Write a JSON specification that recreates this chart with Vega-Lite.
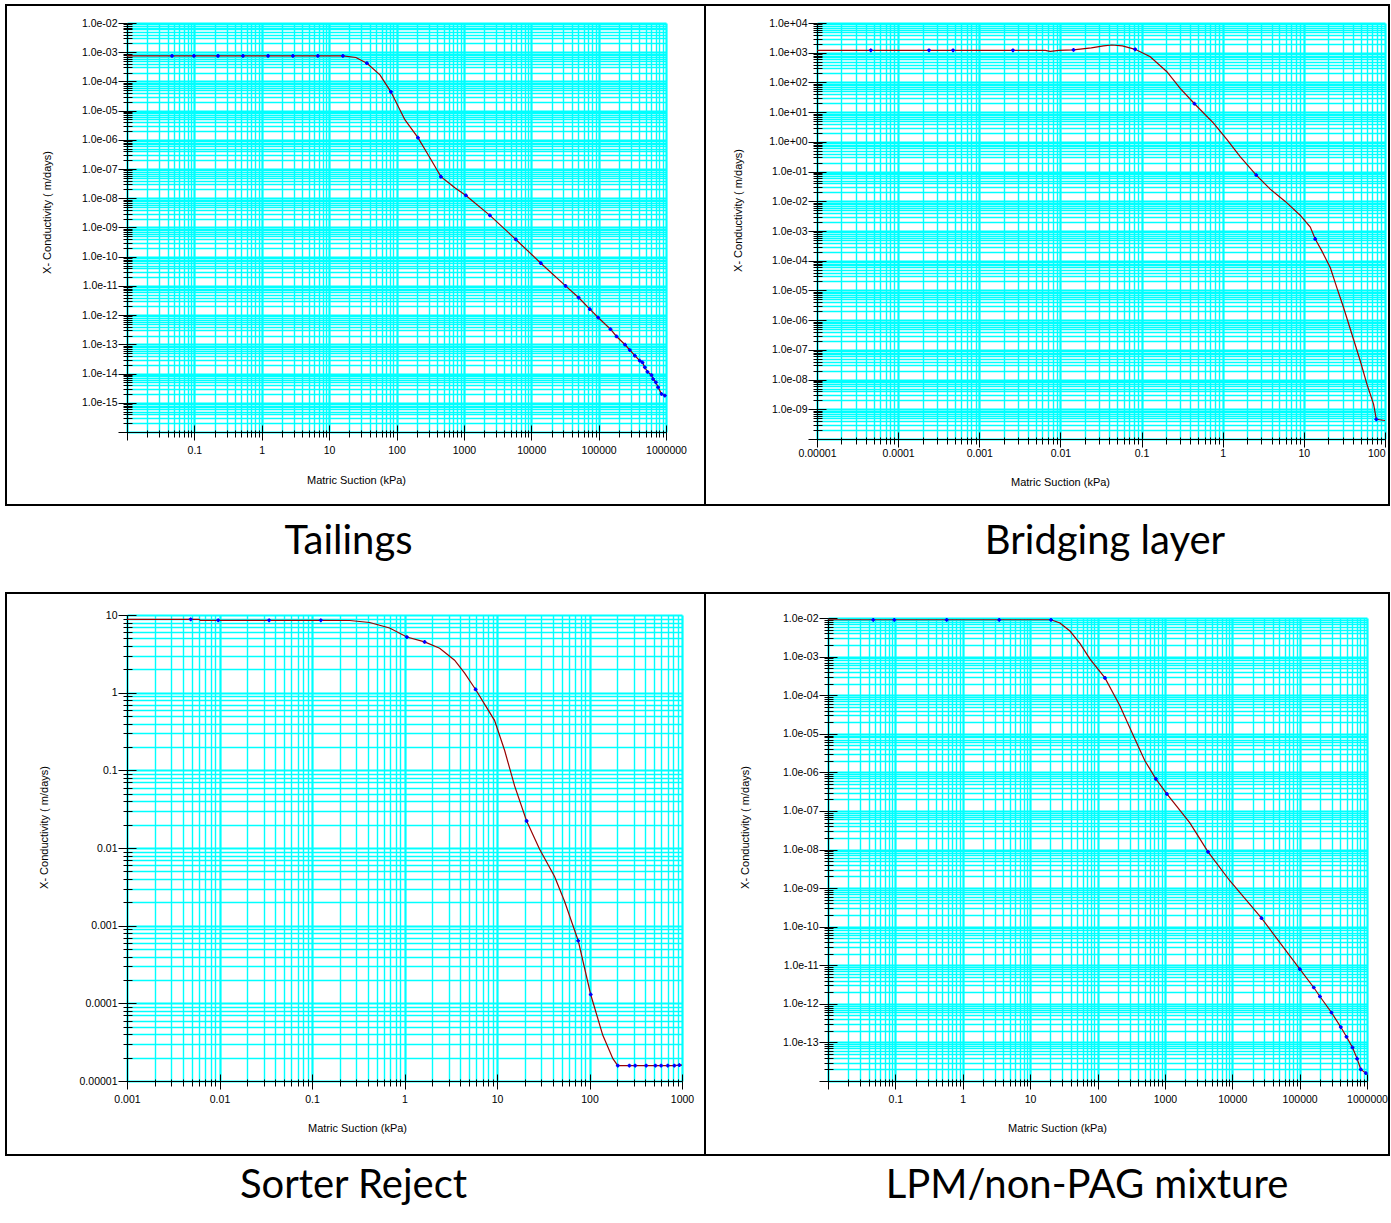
{
  "$schema": "https://vega.github.io/schema/vega-lite/v6.json",
  "background": "white",
  "padding": {"left": 5, "top": 4, "right": 0, "bottom": 0},
  "spacing": 0,
  "bounds": "flush",
  "columns": 2,
  "config": {
    "view": {"stroke": "#000000", "strokeWidth": 2},
    "axis": {"labelFont": "Liberation Sans", "labelFontSize": 10.5, "labelColor": "#000000", "titleFont": "Liberation Sans", "titleFontSize": 11, "titleFontWeight": "normal", "titleColor": "#000000", "domainColor": "#000000", "tickColor": "#000000", "domainWidth": 1, "tickWidth": 1, "gridOpacity": 1, "gridColor": "#00FFFF", "tickRound": true}
  },
  "datasets": {
    "tailings": [
      {"s":0.01,"k":7.5e-4,"m":0},{"s":0.0466,"k":7.5e-4,"m":1},{"s":0.0986,"k":7.5e-4,"m":1},{"s":0.224,"k":7.5e-4,"m":1},{"s":0.526,"k":7.5e-4,"m":1},{"s":1.24,"k":7.5e-4,"m":1},{"s":2.9,"k":7.5e-4,"m":1},{"s":6.8,"k":7.5e-4,"m":1},{"s":16,"k":7.5e-4,"m":1},{"s":25,"k":6.6e-4,"m":0},{"s":36.4,"k":4.2e-4,"m":1},{"s":56.8,"k":1.68e-4,"m":0},{"s":82.6,"k":4.4e-5,"m":1},{"s":133,"k":4.9e-6,"m":0},{"s":208,"k":1.19e-6,"m":1},{"s":313,"k":2.45e-7,"m":0},{"s":456,"k":5.5e-8,"m":1},{"s":735,"k":2.3e-8,"m":0},{"s":1072,"k":1.25e-8,"m":1},{"s":2432,"k":2.6e-9,"m":1},{"s":5900,"k":3.9e-10,"m":1},{"s":13870,"k":6e-11,"m":1},{"s":32300,"k":1e-11,"m":1},{"s":50400,"k":4e-12,"m":1},{"s":74000,"k":1.6e-12,"m":1},{"s":98500,"k":8.3e-13,"m":1},{"s":150000,"k":3.3e-13,"m":1},{"s":184600,"k":1.86e-13,"m":1},{"s":247000,"k":9.7e-14,"m":1},{"s":290000,"k":6.4e-14,"m":1},{"s":345000,"k":4.1e-14,"m":1},{"s":408000,"k":2.75e-14,"m":1},{"s":448000,"k":2.4e-14,"m":1},{"s":484000,"k":1.64e-14,"m":1},{"s":531000,"k":1.15e-14,"m":1},{"s":609000,"k":8.9e-15,"m":1},{"s":644000,"k":6.5e-15,"m":1},{"s":706000,"k":5e-15,"m":1},{"s":764000,"k":3.4e-15,"m":1},{"s":858000,"k":2e-15,"m":1},{"s":960000,"k":1.77e-15,"m":1},{"s":1000000,"k":1.7e-15,"m":0}
    ],
    "bridging": [
      {"s":0.00001,"k":1200,"m":0},{"s":0.000046,"k":1200,"m":1},{"s":0.00024,"k":1200,"m":1},{"s":0.000475,"k":1200,"m":1},{"s":0.0026,"k":1200,"m":1},{"s":0.0065,"k":1200,"m":0},{"s":0.0075,"k":1110,"m":0},{"s":0.0095,"k":1200,"m":0},{"s":0.0145,"k":1250,"m":1},{"s":0.024,"k":1450,"m":0},{"s":0.034,"k":1700,"m":0},{"s":0.043,"k":1820,"m":0},{"s":0.058,"k":1700,"m":0},{"s":0.0834,"k":1300,"m":1},{"s":0.128,"k":735,"m":0},{"s":0.205,"k":230,"m":0},{"s":0.299,"k":63,"m":0},{"s":0.449,"k":19.2,"m":1},{"s":0.77,"k":4.3,"m":0},{"s":1.13,"k":1.18,"m":0},{"s":1.64,"k":0.32,"m":0},{"s":2.59,"k":0.076,"m":1},{"s":3.85,"k":0.0257,"m":0},{"s":5.9,"k":0.0099,"m":0},{"s":9.0,"k":0.0034,"m":0},{"s":12.0,"k":0.00135,"m":0},{"s":13.8,"k":0.00054,"m":1},{"s":16.7,"k":0.00021,"m":0},{"s":21.2,"k":5.8e-5,"m":0},{"s":25.6,"k":1.2e-5,"m":0},{"s":30.9,"k":2.6e-6,"m":0},{"s":39.2,"k":3.3e-7,"m":0},{"s":49.6,"k":4.2e-8,"m":0},{"s":60,"k":6.9e-9,"m":0},{"s":72.4,"k":1.46e-9,"m":0},{"s":78.2,"k":4.6e-10,"m":1},{"s":100,"k":4.2e-10,"m":0}
    ],
    "sorter": [
      {"s":0.001,"k":8.8,"m":0},{"s":0.00488,"k":8.8,"m":1},{"s":0.006,"k":8.8,"m":0},{"s":0.0062,"k":8.55,"m":0},{"s":0.00968,"k":8.55,"m":1},{"s":0.0344,"k":8.55,"m":1},{"s":0.1245,"k":8.55,"m":1},{"s":0.257,"k":8.5,"m":0},{"s":0.42,"k":8.0,"m":0},{"s":0.69,"k":6.8,"m":0},{"s":1.06,"k":5.2,"m":1},{"s":1.65,"k":4.5,"m":1},{"s":2.4,"k":3.74,"m":0},{"s":3.48,"k":2.62,"m":0},{"s":4.47,"k":1.78,"m":0},{"s":5.87,"k":1.1,"m":1},{"s":9.4,"k":0.44,"m":0},{"s":12.1,"k":0.18,"m":0},{"s":15.5,"k":0.063,"m":0},{"s":20.9,"k":0.0223,"m":1},{"s":28.8,"k":0.0097,"m":0},{"s":41.9,"k":0.0043,"m":0},{"s":53.7,"k":0.00206,"m":0},{"s":75.5,"k":0.00064,"m":1},{"s":103,"k":0.00013,"m":1},{"s":139,"k":3.9e-5,"m":0},{"s":179,"k":1.94e-5,"m":0},{"s":202,"k":1.58e-5,"m":1},{"s":270,"k":1.58e-5,"m":1},{"s":312,"k":1.58e-5,"m":1},{"s":410,"k":1.58e-5,"m":1},{"s":516,"k":1.58e-5,"m":1},{"s":595,"k":1.58e-5,"m":1},{"s":701,"k":1.58e-5,"m":1},{"s":827,"k":1.58e-5,"m":1},{"s":937,"k":1.6e-5,"m":1},{"s":1000,"k":1.6e-5,"m":0}
    ],
    "lpm": [
      {"s":0.01,"k":0.009,"m":0},{"s":0.047,"k":0.009,"m":1},{"s":0.0964,"k":0.009,"m":1},{"s":0.577,"k":0.009,"m":1},{"s":3.48,"k":0.009,"m":1},{"s":20.4,"k":0.009,"m":1},{"s":27.7,"k":0.0074,"m":0},{"s":39,"k":0.0046,"m":0},{"s":54.8,"k":0.0022,"m":0},{"s":77,"k":0.00087,"m":0},{"s":129,"k":0.00028,"m":1},{"s":215,"k":5.3e-5,"m":0},{"s":359,"k":7.3e-6,"m":0},{"s":505,"k":2e-6,"m":0},{"s":734,"k":6.8e-7,"m":1},{"s":1070,"k":2.76e-7,"m":1},{"s":2350,"k":4.9e-8,"m":0},{"s":4370,"k":8.7e-9,"m":1},{"s":9200,"k":1.55e-9,"m":0},{"s":27200,"k":1.66e-10,"m":1},{"s":100700,"k":7.9e-12,"m":1},{"s":162000,"k":2.65e-12,"m":1},{"s":200000,"k":1.55e-12,"m":1},{"s":297000,"k":5.96e-13,"m":1},{"s":408000,"k":2.5e-13,"m":1},{"s":496000,"k":1.4e-13,"m":1},{"s":609000,"k":7.4e-14,"m":1},{"s":713000,"k":3.8e-14,"m":1},{"s":809000,"k":2e-14,"m":1},{"s":960000,"k":1.6e-14,"m":1},{"s":1000000,"k":1.5e-14,"m":0}
    ]
  },
  "concat": [
    {
      "width": 699, "height": 500,
      "data": {"name": "tailings"},
      "layer": [
        {"mark": {"type": "line", "color": "#990000", "strokeWidth": 1.2},
         "encoding": {
           "x": {"field": "s", "type": "quantitative", "scale": {"type": "log", "domain": [0.01, 1000000], "range": [121, 660], "nice": false},
                 "axis": {"orient": "top", "tickCount": 100, "grid": true, "gridColor": "#00FFFF", "gridWidth": {"condition": {"test": "abs(log(datum.value)/LN10 - round(log(datum.value)/LN10)) < 0.001", "value": 2.2}, "value": 1.4}, "ticks": false, "labels": false, "domain": false, "title": null}},
           "y": {"field": "k", "type": "quantitative", "scale": {"type": "log", "domain": [1e-16, 0.01], "range": [427, 18], "nice": false},
                 "axis": {"orient": "left", "offset": -121, "tickCount": 180, "grid": true, "gridColor": "#00FFFF", "gridWidth": {"condition": {"test": "abs(log(datum.value)/LN10 - round(log(datum.value)/LN10)) < 0.001", "value": 2.2}, "value": 1.4}, "tickSize": {"condition": {"test": "abs(log(datum.value)/LN10 - round(log(datum.value)/LN10)) < 0.001", "value": 9}, "value": 4}, "labelPadding": 1, "labelOverlap": false, "labelExpr": "(abs(log(datum.value)/LN10 - round(log(datum.value)/LN10)) < 0.001 && datum.value > 2e-16) ? '1.0e' + (round(log(datum.value)/LN10) < 0 ? '-' : '+') + (abs(round(log(datum.value)/LN10)) < 10 ? '0' : '') + abs(round(log(datum.value)/LN10)) : ''", "title": "X- Conductivity ( m/days)", "titlePadding": 29, "titleY": 207}}
         }},
        {"transform": [{"filter": "datum.m == 1"}],
         "mark": {"type": "point", "shape": "circle", "filled": true, "color": "#0000FF", "size": 10, "opacity": 1},
         "encoding": {
           "x": {"field": "s", "type": "quantitative", "scale": {"type": "log", "domain": [0.01, 1000000], "range": [121, 660], "nice": false},
                 "axis": {"orient": "bottom", "offset": -73, "tickCount": 100, "grid": false, "tickSize": {"condition": {"test": "abs(log(datum.value)/LN10 - round(log(datum.value)/LN10)) < 0.001", "value": 8}, "value": 5}, "labelPadding": 5, "labelOverlap": false, "labelFlush": false, "labelExpr": "(abs(log(datum.value)/LN10 - round(log(datum.value)/LN10)) < 0.001 && datum.value > 0.015) ? format(datum.value, datum.value >= 1 ? 'd' : '.' + (-round(log(datum.value)/LN10)) + 'f') : ''", "title": "Matric Suction (kPa)", "titlePadding": 19, "titleX": 350}},
           "y": {"field": "k", "type": "quantitative", "scale": {"type": "log", "domain": [1e-16, 0.01], "range": [427, 18], "nice": false},
                 "axis": {"orient": "left", "offset": -121, "tickCount": 180, "grid": false, "tickSize": {"condition": {"test": "abs(log(datum.value)/LN10 - round(log(datum.value)/LN10)) < 0.001", "value": -9}, "value": -5}, "labels": false, "domain": false, "title": null}}
         }},
        {"transform": [{"filter": "datum.m == 1"}],
         "mark": {"type": "point", "shape": "cross", "filled": true, "color": "#0000FF", "size": 14, "opacity": 1},
         "encoding": {
           "x": {"field": "s", "type": "quantitative", "scale": {"type": "log", "domain": [0.01, 1000000], "range": [121, 660], "nice": false},
                 "axis": {"orient": "bottom", "offset": -73, "tickCount": 100, "grid": false, "tickSize": {"condition": {"test": "abs(log(datum.value)/LN10 - round(log(datum.value)/LN10)) < 0.001", "value": -7}, "value": -2}, "labels": false, "domain": false, "title": null}},
           "y": {"field": "k", "type": "quantitative", "scale": {"type": "log", "domain": [1e-16, 0.01], "range": [427, 18], "nice": false}, "axis": null}
         }}
      ],
      "resolve": {"axis": {"x": "independent", "y": "independent"}}
    },
    {
      "width": 684, "height": 500,
      "data": {"name": "bridging"},
      "layer": [
        {"mark": {"type": "line", "color": "#990000", "strokeWidth": 1.2},
         "encoding": {
           "x": {"field": "s", "type": "quantitative", "scale": {"type": "log", "domain": [0.00001, 100], "range": [112, 680], "nice": false},
                 "axis": {"orient": "top", "tickCount": 90, "grid": true, "gridColor": "#00FFFF", "gridWidth": {"condition": {"test": "abs(log(datum.value)/LN10 - round(log(datum.value)/LN10)) < 0.001", "value": 2.2}, "value": 1.4}, "ticks": false, "labels": false, "domain": false, "title": null}},
           "y": {"field": "k", "type": "quantitative", "scale": {"type": "log", "domain": [1e-10, 10000], "range": [434, 18], "nice": false},
                 "axis": {"orient": "left", "offset": -112, "tickCount": 180, "grid": true, "gridColor": "#00FFFF", "gridWidth": {"condition": {"test": "abs(log(datum.value)/LN10 - round(log(datum.value)/LN10)) < 0.001", "value": 2.2}, "value": 1.4}, "tickSize": {"condition": {"test": "abs(log(datum.value)/LN10 - round(log(datum.value)/LN10)) < 0.001", "value": 9}, "value": 4}, "labelPadding": 1, "labelOverlap": false, "labelExpr": "(abs(log(datum.value)/LN10 - round(log(datum.value)/LN10)) < 0.001 && datum.value > 2e-10) ? '1.0e' + (round(log(datum.value)/LN10) < 0 ? '-' : '+') + (abs(round(log(datum.value)/LN10)) < 10 ? '0' : '') + abs(round(log(datum.value)/LN10)) : ''", "title": "X- Conductivity ( m/days)", "titlePadding": 25, "titleY": 205}}
         }},
        {"transform": [{"filter": "datum.m == 1"}],
         "mark": {"type": "point", "shape": "circle", "filled": true, "color": "#0000FF", "size": 10, "opacity": 1},
         "encoding": {
           "x": {"field": "s", "type": "quantitative", "scale": {"type": "log", "domain": [0.00001, 100], "range": [112, 680], "nice": false},
                 "axis": {"orient": "bottom", "offset": -66, "tickCount": 90, "grid": false, "tickSize": {"condition": {"test": "abs(log(datum.value)/LN10 - round(log(datum.value)/LN10)) < 0.001", "value": 8}, "value": 5}, "labelPadding": 1, "labelOverlap": false, "labelFlush": false, "labelAlign": {"condition": {"test": "datum.value > 50", "value": "right"}, "value": "center"}, "labelExpr": "(abs(log(datum.value)/LN10 - round(log(datum.value)/LN10)) < 0.001) ? format(datum.value, datum.value >= 1 ? 'd' : '.' + (-round(log(datum.value)/LN10)) + 'f') : ''", "title": "Matric Suction (kPa)", "titlePadding": 18, "titleX": 355}},
           "y": {"field": "k", "type": "quantitative", "scale": {"type": "log", "domain": [1e-10, 10000], "range": [434, 18], "nice": false},
                 "axis": {"orient": "left", "offset": -112, "tickCount": 180, "grid": false, "tickSize": {"condition": {"test": "abs(log(datum.value)/LN10 - round(log(datum.value)/LN10)) < 0.001", "value": -9}, "value": -5}, "labels": false, "domain": false, "title": null}}
         }},
        {"transform": [{"filter": "datum.m == 1"}],
         "mark": {"type": "point", "shape": "cross", "filled": true, "color": "#0000FF", "size": 14, "opacity": 1},
         "encoding": {
           "x": {"field": "s", "type": "quantitative", "scale": {"type": "log", "domain": [0.00001, 100], "range": [112, 680], "nice": false},
                 "axis": {"orient": "bottom", "offset": -66, "tickCount": 90, "grid": false, "tickSize": {"condition": {"test": "abs(log(datum.value)/LN10 - round(log(datum.value)/LN10)) < 0.001", "value": -7}, "value": -2}, "labels": false, "domain": false, "title": null}},
           "y": {"field": "k", "type": "quantitative", "scale": {"type": "log", "domain": [1e-10, 10000], "range": [434, 18], "nice": false}, "axis": null}
         }}
      ],
      "resolve": {"axis": {"x": "independent", "y": "independent"}}
    },
    {"width": 699, "height": 88, "data": {"values": [{"t": "Tailings"}]},
     "mark": {"type": "text", "font": "Lato", "fontSize": 40, "baseline": "alphabetic", "align": "center", "color": "#000000", "dx": -7, "dy": 5},
     "encoding": {"text": {"field": "t", "type": "nominal"}}},
    {"width": 684, "height": 88, "data": {"values": [{"t": "Bridging layer"}]},
     "mark": {"type": "text", "font": "Lato", "fontSize": 40, "baseline": "alphabetic", "align": "center", "color": "#000000", "dx": 58, "dy": 5},
     "encoding": {"text": {"field": "t", "type": "nominal"}}},
    {
      "width": 699, "height": 562,
      "data": {"name": "sorter"},
      "layer": [
        {"mark": {"type": "line", "color": "#990000", "strokeWidth": 1.2},
         "encoding": {
           "x": {"field": "s", "type": "quantitative", "scale": {"type": "log", "domain": [0.001, 1000], "range": [121, 676], "nice": false},
                 "axis": {"orient": "top", "tickCount": 80, "grid": true, "gridColor": "#00FFFF", "gridWidth": {"condition": {"test": "abs(log(datum.value)/LN10 - round(log(datum.value)/LN10)) < 0.001", "value": 2.2}, "value": 1.4}, "ticks": false, "labels": false, "domain": false, "title": null}},
           "y": {"field": "k", "type": "quantitative", "scale": {"type": "log", "domain": [0.00001, 10], "range": [488, 22], "nice": false},
                 "axis": {"orient": "left", "offset": -121, "tickCount": 80, "grid": true, "gridColor": "#00FFFF", "gridWidth": {"condition": {"test": "abs(log(datum.value)/LN10 - round(log(datum.value)/LN10)) < 0.001", "value": 2.2}, "value": 1.4}, "tickSize": {"condition": {"test": "abs(log(datum.value)/LN10 - round(log(datum.value)/LN10)) < 0.001", "value": 9}, "value": 4}, "labelPadding": 1, "labelOverlap": false, "labelExpr": "(abs(log(datum.value)/LN10 - round(log(datum.value)/LN10)) < 0.001) ? format(datum.value, datum.value >= 1 ? 'd' : '.' + (-round(log(datum.value)/LN10)) + 'f') : ''", "title": "X- Conductivity ( m/days)", "titlePadding": 30, "titleY": 234}}
         }},
        {"transform": [{"filter": "datum.m == 1"}],
         "mark": {"type": "point", "shape": "circle", "filled": true, "color": "#0000FF", "size": 10, "opacity": 1},
         "encoding": {
           "x": {"field": "s", "type": "quantitative", "scale": {"type": "log", "domain": [0.001, 1000], "range": [121, 676], "nice": false},
                 "axis": {"orient": "bottom", "offset": -74, "tickCount": 80, "grid": false, "tickSize": {"condition": {"test": "abs(log(datum.value)/LN10 - round(log(datum.value)/LN10)) < 0.001", "value": 8}, "value": 5}, "labelPadding": 5, "labelOverlap": false, "labelFlush": false, "labelExpr": "(abs(log(datum.value)/LN10 - round(log(datum.value)/LN10)) < 0.001) ? format(datum.value, datum.value >= 1 ? 'd' : '.' + (-round(log(datum.value)/LN10)) + 'f') : ''", "title": "Matric Suction (kPa)", "titlePadding": 18, "titleX": 351}},
           "y": {"field": "k", "type": "quantitative", "scale": {"type": "log", "domain": [0.00001, 10], "range": [488, 22], "nice": false},
                 "axis": {"orient": "left", "offset": -121, "tickCount": 80, "grid": false, "tickSize": {"condition": {"test": "abs(log(datum.value)/LN10 - round(log(datum.value)/LN10)) < 0.001", "value": -9}, "value": -5}, "labels": false, "domain": false, "title": null}}
         }},
        {"transform": [{"filter": "datum.m == 1"}],
         "mark": {"type": "point", "shape": "cross", "filled": true, "color": "#0000FF", "size": 14, "opacity": 1},
         "encoding": {
           "x": {"field": "s", "type": "quantitative", "scale": {"type": "log", "domain": [0.001, 1000], "range": [121, 676], "nice": false},
                 "axis": {"orient": "bottom", "offset": -74, "tickCount": 80, "grid": false, "tickSize": {"condition": {"test": "abs(log(datum.value)/LN10 - round(log(datum.value)/LN10)) < 0.001", "value": -7}, "value": -2}, "labels": false, "domain": false, "title": null}},
           "y": {"field": "k", "type": "quantitative", "scale": {"type": "log", "domain": [0.00001, 10], "range": [488, 22], "nice": false}, "axis": null}
         }}
      ],
      "resolve": {"axis": {"x": "independent", "y": "independent"}}
    },
    {
      "width": 684, "height": 562,
      "data": {"name": "lpm"},
      "layer": [
        {"mark": {"type": "line", "color": "#990000", "strokeWidth": 1.2},
         "encoding": {
           "x": {"field": "s", "type": "quantitative", "scale": {"type": "log", "domain": [0.01, 1000000], "range": [123, 662], "nice": false},
                 "axis": {"orient": "top", "tickCount": 100, "grid": true, "gridColor": "#00FFFF", "gridWidth": {"condition": {"test": "abs(log(datum.value)/LN10 - round(log(datum.value)/LN10)) < 0.001", "value": 2.2}, "value": 1.4}, "ticks": false, "labels": false, "domain": false, "title": null}},
           "y": {"field": "k", "type": "quantitative", "scale": {"type": "log", "domain": [1e-14, 0.01], "range": [488, 25], "nice": false},
                 "axis": {"orient": "left", "offset": -123, "tickCount": 150, "grid": true, "gridColor": "#00FFFF", "gridWidth": {"condition": {"test": "abs(log(datum.value)/LN10 - round(log(datum.value)/LN10)) < 0.001", "value": 2.2}, "value": 1.4}, "tickSize": {"condition": {"test": "abs(log(datum.value)/LN10 - round(log(datum.value)/LN10)) < 0.001", "value": 9}, "value": 4}, "labelPadding": 1, "labelOverlap": false, "labelExpr": "(abs(log(datum.value)/LN10 - round(log(datum.value)/LN10)) < 0.001 && datum.value > 2e-14) ? '1.0e' + (round(log(datum.value)/LN10) < 0 ? '-' : '+') + (abs(round(log(datum.value)/LN10)) < 10 ? '0' : '') + abs(round(log(datum.value)/LN10)) : ''", "title": "X- Conductivity ( m/days)", "titlePadding": 32, "titleY": 234}}
         }},
        {"transform": [{"filter": "datum.m == 1"}],
         "mark": {"type": "point", "shape": "circle", "filled": true, "color": "#0000FF", "size": 10, "opacity": 1},
         "encoding": {
           "x": {"field": "s", "type": "quantitative", "scale": {"type": "log", "domain": [0.01, 1000000], "range": [123, 662], "nice": false},
                 "axis": {"orient": "bottom", "offset": -74, "tickCount": 100, "grid": false, "tickSize": {"condition": {"test": "abs(log(datum.value)/LN10 - round(log(datum.value)/LN10)) < 0.001", "value": 8}, "value": 5}, "labelPadding": 5, "labelOverlap": false, "labelFlush": false, "labelExpr": "(abs(log(datum.value)/LN10 - round(log(datum.value)/LN10)) < 0.001 && datum.value > 0.015) ? format(datum.value, datum.value >= 1 ? 'd' : '.' + (-round(log(datum.value)/LN10)) + 'f') : ''", "title": "Matric Suction (kPa)", "titlePadding": 18, "titleX": 352}},
           "y": {"field": "k", "type": "quantitative", "scale": {"type": "log", "domain": [1e-14, 0.01], "range": [488, 25], "nice": false},
                 "axis": {"orient": "left", "offset": -123, "tickCount": 150, "grid": false, "tickSize": {"condition": {"test": "abs(log(datum.value)/LN10 - round(log(datum.value)/LN10)) < 0.001", "value": -9}, "value": -5}, "labels": false, "domain": false, "title": null}}
         }},
        {"transform": [{"filter": "datum.m == 1"}],
         "mark": {"type": "point", "shape": "cross", "filled": true, "color": "#0000FF", "size": 14, "opacity": 1},
         "encoding": {
           "x": {"field": "s", "type": "quantitative", "scale": {"type": "log", "domain": [0.01, 1000000], "range": [123, 662], "nice": false},
                 "axis": {"orient": "bottom", "offset": -74, "tickCount": 100, "grid": false, "tickSize": {"condition": {"test": "abs(log(datum.value)/LN10 - round(log(datum.value)/LN10)) < 0.001", "value": -7}, "value": -2}, "labels": false, "domain": false, "title": null}},
           "y": {"field": "k", "type": "quantitative", "scale": {"type": "log", "domain": [1e-14, 0.01], "range": [488, 25], "nice": false}, "axis": null}
         }}
      ],
      "resolve": {"axis": {"x": "independent", "y": "independent"}}
    },
    {"width": 699, "height": 66, "data": {"values": [{"t": "Sorter Reject"}]},
     "mark": {"type": "text", "font": "Lato", "fontSize": 40, "baseline": "alphabetic", "align": "center", "color": "#000000", "dx": -2, "dy": 10},
     "encoding": {"text": {"field": "t", "type": "nominal"}}},
    {"width": 684, "height": 66, "data": {"values": [{"t": "LPM/non-PAG mixture"}]},
     "mark": {"type": "text", "font": "Lato", "fontSize": 40, "baseline": "alphabetic", "align": "center", "color": "#000000", "dx": 40, "dy": 10},
     "encoding": {"text": {"field": "t", "type": "nominal"}}}
  ]
}
